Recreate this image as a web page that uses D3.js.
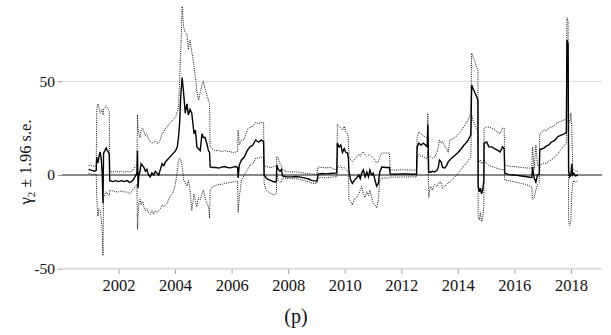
<!DOCTYPE html>
<html>
<head>
<meta charset="utf-8">
<script src="https://cdn.jsdelivr.net/npm/d3@7"></script>
<style>
    body { margin: 0; background: #fff; }
</style>
</head>
<body>
<svg id="chart"></svg>
<script>
// decimal years, one row per observation (segments kept on separate lines)
const dates = [
    2000.94, 2001.05, 2001.15, 2001.21, 2001.23, 2001.27, 2001.31, 2001.35, 2001.39, 2001.42, 2001.45, 2001.47, 2001.52, 2001.56, 2001.60, 2001.64, 2001.67,
    2001.69, 2001.80, 2001.90, 2002.00, 2002.10, 2002.20, 2002.30, 2002.40, 2002.50, 2002.58, 2002.65,
    2002.67, 2002.69, 2002.72, 2002.76, 2002.80, 2002.85, 2002.90, 2002.95,
    2003.00, 2003.06, 2003.12, 2003.18, 2003.24, 2003.30, 2003.36, 2003.42, 2003.48, 2003.54, 2003.60, 2003.66, 2003.72, 2003.78, 2003.84, 2003.90, 2003.96,
    2004.02, 2004.08, 2004.12, 2004.16, 2004.20, 2004.25, 2004.30, 2004.36, 2004.42, 2004.47, 2004.53, 2004.59, 2004.67, 2004.72, 2004.77, 2004.83, 2004.89, 2004.95,
    2005.00, 2005.06, 2005.12, 2005.18, 2005.22,
    2005.24, 2005.35, 2005.45, 2005.55, 2005.65, 2005.75, 2005.85, 2005.95, 2006.05, 2006.15, 2006.21,
    2006.23, 2006.27, 2006.35, 2006.45, 2006.55, 2006.65, 2006.75, 2006.85, 2006.95, 2007.05, 2007.13,
    2007.15, 2007.22, 2007.30, 2007.40, 2007.50, 2007.58, 2007.60, 2007.65, 2007.71, 2007.76, 2007.80, 2007.95, 2008.10, 2008.25, 2008.40, 2008.55, 2008.70, 2008.85, 2009.02, 2009.06, 2009.20, 2009.35, 2009.50, 2009.65, 2009.72,
    2009.74, 2009.80, 2009.86, 2009.92, 2009.98, 2010.04, 2010.10, 2010.13,
    2010.15, 2010.21, 2010.27, 2010.33, 2010.42, 2010.50, 2010.55, 2010.60, 2010.66, 2010.72, 2010.78, 2010.84, 2010.89, 2010.95, 2011.01, 2011.07, 2011.13, 2011.19, 2011.24, 2011.31, 2011.45, 2011.58,
    2011.61, 2011.80, 2012.00, 2012.20, 2012.40, 2012.54,
    2012.56, 2012.62, 2012.70, 2012.78, 2012.86, 2012.92, 2012.94, 2012.97,
    2013.03, 2013.10, 2013.18, 2013.26, 2013.31, 2013.35, 2013.41, 2013.46, 2013.54, 2013.60, 2013.66, 2013.72, 2013.78, 2013.90,
    2014.01, 2014.12, 2014.22, 2014.31, 2014.38, 2014.46, 2014.49, 2014.54, 2014.60, 2014.66, 2014.71,
    2014.72, 2014.76, 2014.80, 2014.84, 2014.88, 2014.92,
    2014.93, 2015.02, 2015.10, 2015.20, 2015.31, 2015.40, 2015.50, 2015.58, 2015.64,
    2015.66, 2015.80, 2015.95, 2016.10, 2016.25, 2016.40, 2016.55, 2016.62, 2016.64, 2016.70, 2016.76, 2016.82, 2016.88,
    2016.90, 2016.98, 2017.06, 2017.14, 2017.22, 2017.30, 2017.38, 2017.46, 2017.54, 2017.62, 2017.70, 2017.78, 2017.84,
    2017.86, 2017.90, 2017.92, 2017.96, 2018.00, 2018.03, 2018.06, 2018.10, 2018.16, 2018.24
];

// gamma_2 estimate
const estimate = [
    3, 2.5, 2, 2.5, 9.6, 6.4, 10, 12.3, 8, 1, -15, 11.7, 13, 14.4, 13, 12.3, 11,
    -3, -3.5, -3, -3.5, -3, -3.5, -3, -4, -3, -1, 1,
    13, -7, 0, 2, 6, 5, 4, 2,
    3, 0, -1, 1, 0, 2, 1, 0, 3, 6, 5, 7, 8, 9, 10, 11, 12,
    13, 15, 20, 27.6, 42, 52, 44, 33, 38, 32, 35, 33, 22, 24, 15, 14, 13, 22,
    20, 20, 17, 13, 12,
    4.3, 4, 4, 3.7, 4.2, 4.5, 4, 3.8, 4.2, 4.5, 4,
    -1.6, 5.3, 8, 9.6, 13, 15, 16, 18.7, 17.5, 18.7, 17.6,
    0, -1.6, -2.5, -3, -3.7, -3.5, 5.3, 3, 2, 3, -0.5, -1, -1, -0.8, -1, -1.5, -2, -3, -3.2, 0.5, 0.8, 0.6, 0.8, 1, 1,
    17, 15, 16, 12, 14, 12, 11.7, 9,
    2, -2.7, -4.4, -3, -1.6, 0, -2, 1, 2.7, -1, 1.6, -1, 2.7, 0, 1, -2.7, -6, -4.4, 1.6, 4.3, 4, 4,
    0.5, 0.4, 0.6, 0.5, 0.4, 0.5,
    15, 17, 16, 17, 16, 15, 27, 1.5,
    1.5, 2, 1.6, 2.5, 4, 8, 7, 4, 3.7, 5, 7, 8, 9, 10.5,
    12, 14, 16, 17.5, 19, 21.5, 48, 46, 44, 42, 40,
    -6, -9, -7, -10, -8, -3,
    17, 17.6, 15, 15, 14, 13.3, 12.3, 15, 14,
    1, 0.2, 0, -0.2, -0.5, -0.8, -1.2, -1.3, 4.3, -1.6, -3.7, 0, 0.5,
    13.5, 14, 14.5, 15.5, 16, 17.5, 18, 19, 20.5, 21, 21.5, 22, 23,
    72, 70, 2, -1, 0, 6, 0, 1, -0.5, 0
];

// estimate - 1.96 s.e.
const lower = [
    1, 0.5, 0, 0.5, -13, -22, -18, -19, -24, -29, -43, -12, -10, -9, -10, -10, -11,
    -8, -8.5, -9, -9, -8.5, -9, -9, -10, -8, -6.4, -5,
    -29, -22, -15, -13, -16, -14, -17, -19,
    -18, -20, -21, -19, -21, -19, -20, -19, -18, -16, -17, -16, -15, -13, -11, -10, -8,
    -4, 2, 8, 9, 8, 5, -2.7, -4, -6, -3, -8, -19, -10, -14, -17, -12, -13, -10,
    -8, -12, -15, -17, -23,
    -8, -6, -5.5, -5, -5, -4.5, -4.2, -4, -3.7, -3.5, -3.2,
    -20, -12, -2.7, 0, 2.7, 5.3, 6, 9, 9, 9.5, 9,
    -4.4, -8, -9, -10, -10.7, -10, 1, -3, -4, -3.5, -1.6, -1.8, -2, -2, -2.2, -3, -3.5, -4.4, -4.5, -1.6, -1.2, -1.5, -1.2, -1, -1,
    5, 4, 5, 3, 4, 3, 2, 1,
    -13, -14, -16, -13, -12, -10, -8, -6, -10, -12, -9, -11, -8, -12, -15, -16, -17.6, -13, -2.7, -1.6, -1.6, -1.6,
    -1, -1.2, -1, -1.1, -1, -1,
    9, 11, 10, 10, 9, 9, 13, -12,
    -6, -8, -5, -6, -5, -3.7, -4, -7, -6, -5, -4, -3.7, -2.7, -1,
    1, 3, 5, 6.5, 8, 9.6, 32, 29, 27, 25, 24,
    -22, -24, -20, -25, -23, -17,
    8, 6, 5, 4.5, 4, 3.5, 3, 2.7, 3,
    -2.7, -3, -3.5, -4, -4.5, -5, -6, -6.4, -13, -12, -8, -5, -4,
    5, 6, 6.5, 6, 7.5, 8, 9, 10, 11.5, 13, 14.5, 16, 17,
    62, 60, -25, -27, -24, -10, -5, -3, -4, -3
];

// estimate + 1.96 s.e.
const upper = [
    5, 5, 4.5, 5, 35, 38, 36, 33, 34, 35, 32, 35, 36, 37, 36, 35, 34,
    2, 1.5, 2, 1.5, 2, 1.5, 2, 1.5, 2.5, 4.3, 5,
    32, 25, 22, 20, 24, 25, 23, 21,
    22, 19, 18, 17, 17.5, 18, 17, 17, 19, 22, 23, 25, 25.6, 27, 28, 29, 30,
    31, 34, 36, 50, 66, 90, 79, 76, 75, 67, 72, 66, 58, 52, 45, 40, 44, 48,
    50, 46, 43, 40, 38,
    15, 13.5, 13, 13, 12.5, 13, 12.5, 12.5, 12, 12.3, 12.5,
    24, 16, 18.7, 19, 24, 25.6, 26, 28, 27.5, 28, 28,
    5, 4.5, 4.3, 4, 4.5, 5, 10, 9, 6, 5, 2.7, 1.8, 1.6, 1.7, 1.5, 1, 0.8, 0.5, 0.3, 4.3, 4, 3.8, 4, 3, 2.7,
    27, 26, 25, 24, 26, 23, 22, 20,
    10, 8, 7, 8, 9.6, 11, 10, 11.7, 12.3, 11, 10, 10.5, 11, 10, 9, 8, 6.4, 7, 9.6, 11.7, 11.7, 11.7,
    2.7, 2.6, 2.8, 2.7, 2.6, 2.7,
    20, 23, 22, 21, 20, 20, 33, 10,
    10, 9, 9.6, 12, 15, 18.6, 17, 18, 15, 14.4, 12, 18.7, 19, 20,
    21.5, 23.5, 26, 28, 30, 33, 65, 63, 61, 58, 56,
    8, 7, 8, 6, 7, 8,
    25, 25.6, 25.6, 25, 24, 23, 22, 25, 25,
    5.3, 4.8, 4.5, 4.3, 4, 3.8, 3.7, 3.7, 15, 3, 16, 5, 5,
    22, 23, 24, 23.5, 25, 25.5, 26, 27, 28, 28.5, 29, 29.5, 30,
    84, 82, 30, 28, 33, 26, 4, 3, 2, 2
];

const yearTicks = [2002, 2004, 2006, 2008, 2010, 2012, 2014, 2016, 2018];
const valueTicks = [-50, 0, 50];

const serif = "'Liberation Serif', 'DejaVu Serif', 'Times New Roman', serif";

const rows = d3.range(dates.length).map(i => ({
    t: dates[i], est: estimate[i], lo: lower[i], hi: upper[i]
}));

const width = 611, height = 335;
const left = 62, right = 602;

const svg = d3.select("#chart")
    .attr("width", width)
    .attr("height", height);

const x = d3.scaleLinear()
    .domain([2000, 2019.1])
    .range([left, right]);

const y = d3.scaleLinear()
    .domain([-50, 50])
    .range([268.7, 81.3]);

// light grid at +/-50
svg.append("line")
    .attr("x1", left).attr("x2", right)
    .attr("y1", y(50)).attr("y2", y(50))
    .attr("stroke", "#d9d9d9").attr("stroke-width", 1);
svg.append("line")
    .attr("x1", left).attr("x2", right)
    .attr("y1", y(-50)).attr("y2", y(-50))
    .attr("stroke", "#dcdcdc").attr("stroke-width", 2);

// zero line
svg.append("line")
    .attr("x1", left).attr("x2", right)
    .attr("y1", y(0)).attr("y2", y(0))
    .attr("stroke", "#111").attr("stroke-width", 1);

// y axis
const yAxis = svg.append("g")
    .attr("transform", "translate(" + left + ",0)")
    .call(d3.axisLeft(y).tickValues(valueTicks).tickFormat(d => String(d)).tickSize(4).tickPadding(3))
    .attr("font-family", null)
    .attr("font-size", null);
yAxis.select(".domain").remove();
yAxis.selectAll("line").attr("stroke", "#999");
yAxis.selectAll("text")
    .style("font-family", serif)
    .style("font-size", "15.5px")
    .attr("fill", "#111");

// x axis
const xAxis = svg.append("g")
    .attr("transform", "translate(0," + (y(-50) + 1) + ")")
    .call(d3.axisBottom(x).tickValues(yearTicks).tickFormat(d3.format("d")).tickSize(4))
    .attr("font-family", null)
    .attr("font-size", null);
xAxis.select(".domain").remove();
xAxis.selectAll("line").attr("stroke", "#999");
xAxis.selectAll("text")
    .attr("y", 21)
    .attr("dy", 0)
    .style("font-family", serif)
    .style("font-size", "16.5px")
    .attr("fill", "#111");

// confidence bands, dotted
const lineLo = d3.line().x(d => x(d.t)).y(d => y(d.lo));
const lineHi = d3.line().x(d => x(d.t)).y(d => y(d.hi));
const lineEst = d3.line().x(d => x(d.t)).y(d => y(d.est));

[lineLo, lineHi].forEach(gen => {
    svg.append("path")
        .datum(rows)
        .attr("fill", "none")
        .attr("stroke", "#111")
        .attr("stroke-width", 1)
        .attr("stroke-dasharray", "1,1.2")
        .attr("d", gen);
});

svg.append("path")
    .datum(rows)
    .attr("fill", "none")
    .attr("stroke", "#000")
    .attr("stroke-width", 1.4)
    .attr("d", lineEst);

// y label
const yl = svg.append("text")
    .attr("transform", "translate(31,162) rotate(-90)")
    .attr("text-anchor", "middle")
    .style("font-family", serif)
    .style("font-size", "16.5px")
    .attr("fill", "#111");
yl.append("tspan").text("γ");
yl.append("tspan").attr("dy", 4).style("font-size", "11px").text("2");
yl.append("tspan").attr("dy", -4).text(" ± 1.96 s.e.");

// panel label
svg.append("text")
    .attr("x", 296)
    .attr("y", 323)
    .attr("text-anchor", "middle")
    .style("font-family", serif)
    .style("font-size", "20px")
    .attr("fill", "#111")
    .text("(p)");
</script>
</body>
</html>
